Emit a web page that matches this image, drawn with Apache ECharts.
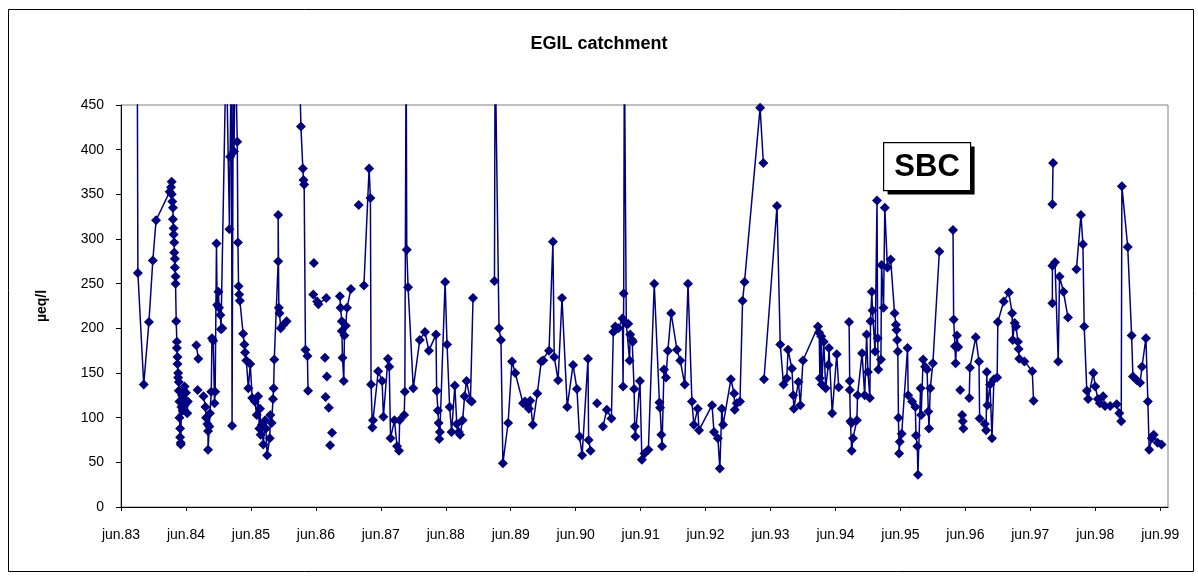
<!DOCTYPE html>
<html>
<head>
<meta charset="utf-8">
<title>EGIL catchment</title>
<script src="https://cdn.jsdelivr.net/npm/echarts@6/dist/echarts.min.js"></script>
<style>
  html, body { margin: 0; padding: 0; background: #fff; }
  #chart { width: 1198px; height: 576px; }
</style>
</head>
<body>
<div id="chart"></div>
<script>
// dates as years, 83.0 = jun.83 ; null = gap in the series
var dates = [
  83.25, 83.26, 83.35, 83.43, 83.49, 83.54, 83.75, 83.77, 83.78, 83.78, 83.79, 83.80, 83.80, 83.81, 83.81,
  83.82, 83.82, 83.83, 83.83, 83.84, 83.84, 83.85, 83.86, 83.86, 83.87, 83.87, 83.88, 83.88, 83.89, 83.89,
  83.90, 83.90, 83.91, 83.91, 83.92, 83.92, 83.93, 83.94, 83.95, 83.96, 83.97, 83.98, 83.99, 84.00, 84.02, 84.03,
  null, 84.16, 84.19, null, 84.18, null,
  84.27, 84.30, 84.31, 84.33, 84.34, 84.34, 84.36, 84.37, 84.39, 84.40, 84.42, 84.44, 84.45, 84.47, 84.48,
  84.50, 84.51, 84.53, 84.54, 84.56, 84.62, 84.67, 84.68, 84.70, 84.71, 84.73, 84.74, 84.76, 84.79, 84.80,
  84.81, 84.82, 84.83, 84.88, 84.90, 84.91, 84.93, 84.96, 84.99, 85.02, 85.06, 85.09, 85.11, 85.13, 85.14,
  85.15, 85.17, 85.19, 85.22, 85.23, 85.25, 85.29, 85.30, 85.32, 85.34, 85.35, 85.36, 85.42, 85.42, 85.43,
  85.44, 85.46, 85.50, 85.55,
  null, 85.74, 85.77, 85.80, 85.81, 85.82, 85.84, 85.87, 85.88,
  null, 85.97, null, 85.96, 86.02, 86.04, 86.16,
  null, 86.14, null, 86.17, null, 86.15, null, 86.20, null, 86.25, null, 86.22, null,
  86.37, 86.38, 86.40, 86.40, 86.41, 86.43, 86.44, 86.46, 86.48, 86.54,
  null, 86.66, null,
  86.74, 86.82, 86.84, 86.85, 86.87, 86.88, 86.96, 87.02, 87.04, 87.11, 87.13, 87.15, 87.21, 87.25, 87.28,
  87.29, 87.36, 87.37, 87.39, 87.40, 87.42, 87.50, 87.60, 87.68, 87.74, 87.85, 87.86, 87.88, 87.89, 87.90,
  87.91, 87.99, 88.02, 88.06, 88.09, 88.14, 88.17, 88.20, 88.22, 88.26, 88.29, 88.32, 88.38, 88.40, 88.42,
  null,
  88.75, 88.76, 88.82, 88.85, 88.88, 88.96, 89.02, 89.07, 89.19, 89.22, 89.25, 89.28, 89.30, 89.34, 89.41,
  89.47, 89.50, 89.59, 89.65, 89.67, 89.73, 89.79, 89.87, 89.96, 90.02, 90.06, 90.10, 90.19, 90.20, 90.23,
  null, 90.33, null,
  90.42, 90.48, 90.55, 90.58, 90.61, 90.66, 90.72, 90.73, 90.74, 90.75, 90.78, 90.81, 90.83, 90.84, 90.87,
  90.88, 90.90, 90.91, 90.92, 90.99, 91.02, 91.06, 91.12, 91.21, 91.29, 91.30, 91.32, 91.33, 91.36, 91.39,
  91.42, 91.47, 91.56, 91.61, 91.68, 91.73, 91.79, 91.82, 91.88, 91.90, 92.10, 92.13, 92.19, 92.22, 92.25,
  92.27, 92.39, 92.44, 92.45, 92.48, 92.53, 92.57, 92.60, 92.84, 92.89,
  null,
  92.90, 93.10, 93.15, 93.20, 93.25, 93.27, 93.33, 93.35, 93.36, 93.43, 93.46, 93.50, 93.73, 93.75, 93.76,
  93.78, 93.79, 93.82, 93.85, 93.89, 93.90, 93.95, 94.02, 94.05,
  null,
  94.21, 94.22, 94.22, 94.23, 94.25, 94.25, 94.27, 94.33, 94.34, 94.41, 94.45, 94.48, 94.50, 94.53, 94.54,
  94.56, 94.57, 94.61, 94.64, 94.65, 94.66, 94.70, 94.71, 94.74, 94.76, 94.80, 94.85, 94.91, 94.93, 94.94,
  94.95, 94.96, 94.97, 94.98, 94.99, 95.02, 95.11, 95.12, 95.18, 95.23, 95.24, 95.26, 95.27, 95.31, 95.32,
  95.35, 95.38, 95.41, 95.43, 95.44, 95.46, 95.50, 95.60,
  null, 95.81, 95.82, 95.84, 95.85, 95.87, 95.89,
  null, 95.92, null, 95.95, 95.96, 95.97, null,
  96.06, 96.07, 96.16, 96.21, 96.22, 96.30, 96.32, 96.33, 96.34, 96.38, 96.41, 96.44, 96.49, 96.50, 96.59,
  96.67, 96.72, 96.73, 96.76, 96.78, 96.81, 96.82, 96.83, 96.91, 97.03, 97.05,
  null, 97.34, 97.35,
  null, 97.34, 97.34, 97.38, 97.43, 97.45, 97.51, 97.58,
  null,
  97.71, 97.78, 97.81, 97.83, 97.87, 97.89, 97.97, 98.00, 98.04, 98.07, 98.12, 98.15, 98.23, 98.33, 98.37,
  98.40, 98.41, 98.50, 98.56, 98.58, 98.64, 98.69, 98.72, 98.78, 98.81, 98.83, 98.87, 98.90, 98.96, 99.02
];

// SBC, µeq/l (values above 450 run off the top of the plot)
var sbc = [
  520, 262, 137, 207, 276, 321, 353, 358, 364, 350, 342, 335, 322, 312, 305,
  296, 285, 278, 268, 258, 250, 208, 185, 178, 168, 160, 150, 145, 140, 130,
  118, 100, 88, 78, 72, 70, 112, 125, 108, 130, 120, 135, 115, 128, 105, 118,
  null, 181, 166, null, 131, null,
  124, 112, 100, 93, 85, 64, 90, 105, 129, 189, 186, 116, 129, 295, 226,
  241, 223, 215, 199, 200, 520, 311, 392, 520, 91, 520, 398, 520, 409, 296,
  247, 238, 231, 194, 182, 173, 164, 133, 160, 122, 118, 103, 124, 88, 110,
  81, 92, 70, 97, 88, 58, 77, 103, 94, 121, 133, 165, 275, 327, 223,
  217, 200, 204, 208,
  null, 520, 426, 379, 366, 361, 176, 169, 130,
  null, 273, null, 238, 230, 227, 234,
  null, 167, null, 146, null, 123, null, 111, null, 83, null, 69, null,
  236, 223, 208, 197, 167, 141, 192, 203, 223, 244,
  null, 338, null,
  248, 379, 346, 137, 89, 97, 152, 141, 101, 166, 157, 77, 97, 68, 63,
  97, 103, 129, 520, 288, 246, 133, 187, 196, 175, 193, 130, 108, 94, 76,
  84, 252, 182, 112, 84, 136, 93, 84, 81, 97, 124, 141, 119, 118, 234,
  null,
  253, 520, 200, 187, 49, 94, 163, 150, 116, 118, 114, 110, 119, 92, 127,
  163, 164, 175, 297, 168, 142, 234, 112, 159, 132, 79, 58, 166, 75, 63,
  null, 116, null,
  90, 109, 99, 196, 202, 200, 211, 135, 239, 520, 205, 205, 164, 193, 187,
  185, 132, 90, 79, 141, 53, 60, 64, 250, 117, 111, 81, 68, 154, 145,
  175, 217, 176, 164, 137, 250, 118, 92, 110, 86, 114, 84, 77, 43, 110,
  92, 143, 127, 109, 116, 118, 231, 252, 447, 385,
  null,
  143, 337, 182, 137, 144, 176, 155, 125, 110, 140, 114, 164, 202, 195, 144,
  191, 137, 185, 133, 159, 178, 105, 171, 134,
  null,
  207, 141, 131, 96, 94, 63, 77, 97, 125, 172, 125, 193, 151, 122, 208,
  241, 220, 174, 343, 189, 154, 165, 271, 223, 335, 268, 277, 217, 204, 198,
  187, 174, 100, 60, 73, 82, 178, 125, 118, 112, 80, 68, 36, 133, 103,
  165, 157, 154, 107, 88, 133, 161, 286,
  null, 310, 210, 180, 161, 192, 179,
  null, 131, null, 103, 96, 88, null,
  122, 156, 190, 163, 99, 93, 86, 151, 114, 137, 77, 143, 145, 207, 230,
  240, 217, 187, 206, 202, 185, 177, 166, 163, 152, 119,
  null, 339, 385,
  null, 228, 270, 274, 163, 258, 241, 212,
  null,
  266, 327, 294, 202, 130, 121, 150, 135, 121, 116, 124, 113, 113, 115, 105,
  96, 359, 291, 192, 146, 142, 139, 157, 189, 118, 64, 77, 81, 72, 70
];

var yTicks = [0, 50, 100, 150, 200, 250, 300, 350, 400, 450];

var points = dates.map(function (d, i) {
  return sbc[i] == null ? ['-', '-'] : [d, sbc[i]];
});

var chart = echarts.init(document.getElementById('chart'));

var option = {
  animation: false,
  backgroundColor: '#ffffff',
  textStyle: { fontFamily: 'Liberation Sans, Arial, sans-serif' },
  title: {
    text: 'EGIL catchment',
    left: 'center',
    top: 30,
    textStyle: { fontSize: 18, fontWeight: 'bold', color: '#000' }
  },
  grid: {
    left: 121, right: 30, top: 105, bottom: 69,
    show: true, borderColor: '#808080', borderWidth: 1
  },
  xAxis: {
    type: 'value',
    min: 83,
    max: 99.12,
    interval: 1,
    splitLine: { show: false },
    axisLine: { lineStyle: { color: '#000', width: 1 } },
    axisTick: { length: 4, lineStyle: { color: '#000' } },
    axisLabel: {
      color: '#000', fontSize: 14, margin: 21,
      showMaxLabel: false,
      formatter: function (v) { return Number.isInteger(v) ? 'jun.' + v : ''; }
    }
  },
  yAxis: {
    type: 'value',
    min: yTicks[0],
    max: yTicks[yTicks.length - 1],
    interval: 50,
    name: 'µeq/l',
    nameLocation: 'middle',
    nameRotate: 90,
    nameGap: 72,
    nameTextStyle: { fontSize: 14, fontWeight: 'bold', color: '#000' },
    splitLine: { show: false },
    axisLine: { show: true, lineStyle: { color: '#000', width: 1 } },
    axisTick: { show: true, length: 5, lineStyle: { color: '#000' } },
    axisLabel: { color: '#000', fontSize: 14, margin: 17 }
  },
  series: [{
    name: 'SBC',
    type: 'line',
    data: points,
    connectNulls: false,
    clip: true,
    symbol: 'diamond',
    symbolSize: 10,
    showAllSymbol: true,
    lineStyle: { color: '#000080', width: 1.5 },
    itemStyle: { color: '#000080' }
  }],
  graphic: [
    {
      type: 'rect', left: 6, top: 7, silent: true,
      shape: { width: 1185, height: 562 },
      style: { fill: 'none', stroke: '#000', lineWidth: 1 }
    },
    {
      type: 'group', left: 883, top: 142, silent: true,
      children: [
        { type: 'rect', shape: { x: 4, y: 4, width: 87, height: 48 }, style: { fill: '#000' } },
        { type: 'rect', shape: { x: 0, y: 0, width: 87, height: 48 }, style: { fill: '#fff', stroke: '#000', lineWidth: 1.2 } },
        {
          type: 'text', x: 43.5, y: 25,
          style: {
            text: 'SBC', fill: '#000', font: 'bold 31px Liberation Sans, Arial, sans-serif',
            align: 'center', verticalAlign: 'middle'
          }
        }
      ]
    }
  ]
};

chart.setOption(option);
</script>
</body>
</html>
